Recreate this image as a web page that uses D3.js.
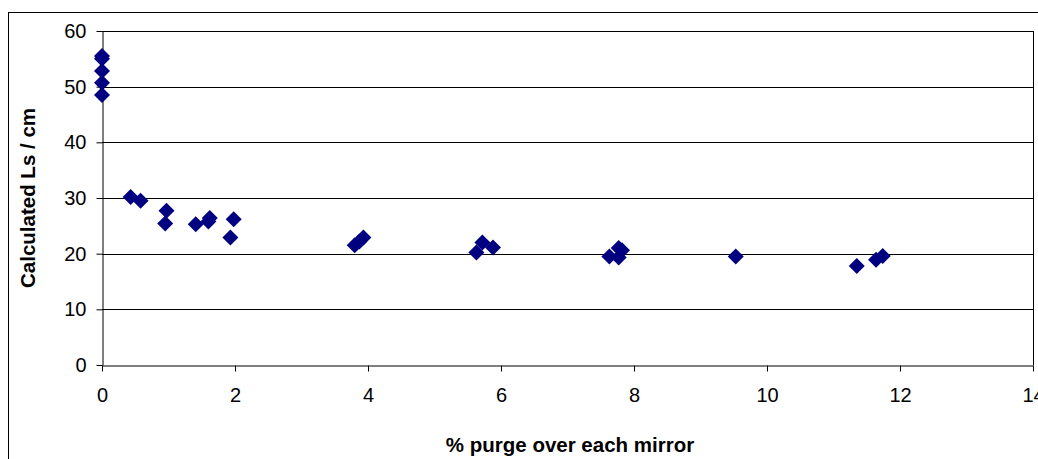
<!DOCTYPE html>
<html><head><meta charset="utf-8">
<script src="https://cdn.jsdelivr.net/npm/d3@7"></script>
<style>body{margin:0;background:#fff}svg{display:block}</style>
</head><body>
<svg id="c" width="1038" height="459"></svg>
<script>
const purge = [0,0,0,0,0, 0.43,0.58,0.97,0.95,1.41,1.6,1.62,1.98,1.93, 3.8,3.87,3.93, 5.63,5.72,5.88, 7.63,7.77,7.77,7.82, 9.53, 11.35,11.64,11.74];
const ls    = [55.5,55.0,52.8,50.7,48.5, 30.2,29.5,27.7,25.4,25.3,25.8,26.4,26.2,22.9, 21.5,22.2,22.9, 20.2,22.0,21.1, 19.5,21.0,19.3,20.6, 19.5, 17.8,18.9,19.6];
const xTicks = [0,2,4,6,8,10,12,14];
const yTicks = [0,10,20,30,40,50,60];
const xTitle = "% purge over each mirror";
const yTitle = "Calculated Ls / cm";

const svg = d3.select("#c");
const L=102, R=1033, T=31, B=365;
const x = d3.scaleLinear().domain([0,14]).range([L,R]);
const y = d3.scaleLinear().domain([0,60]).range([B,T]);

svg.append("rect").attr("x",8.5).attr("y",12.5).attr("width",1100).attr("height",500)
  .attr("fill","none").attr("stroke","#000").attr("stroke-width",1);

svg.append("g").selectAll("line").data(yTicks.filter(d=>d>0)).join("line")
  .attr("x1",L).attr("x2",R).attr("y1",d=>Math.round(y(d))+0.5).attr("y2",d=>Math.round(y(d))+0.5)
  .attr("stroke","#000").attr("stroke-width",1);
svg.append("line").attr("x1",R+0.5).attr("x2",R+0.5).attr("y1",T).attr("y2",B)
  .attr("stroke","#000");

const font = "'Liberation Sans', Arial, sans-serif";
const xAxis = svg.append("g").attr("transform",`translate(0,${Math.round(B)+0.5})`)
  .call(d3.axisBottom(x).tickValues(xTicks).tickSize(6).tickPadding(16).tickSizeOuter(0));
const yAxis = svg.append("g").attr("transform",`translate(${L+0.5},0)`)
  .call(d3.axisLeft(y).tickValues(yTicks).tickSize(6).tickPadding(10).tickSizeOuter(0));
[xAxis,yAxis].forEach(g=>{
  g.selectAll("path,line").attr("stroke","#000");
  g.selectAll("text").attr("font-family",font).attr("font-size",20).attr("fill","#000");
});

const r = 8;
svg.append("g").selectAll("path").data(purge.map((p,i)=>[p,ls[i]])).join("path")
  .attr("d",`M0,${-r}L${r},0L0,${r}L${-r},0Z`)
  .attr("transform",d=>`translate(${x(d[0])},${y(d[1])})`)
  .attr("fill","#000080");

svg.append("text").attr("x",570).attr("y",452).attr("text-anchor","middle")
  .attr("font-family",font).attr("font-weight","bold").attr("font-size",20.5).text(xTitle);
svg.append("text").attr("transform",`translate(35,${(T+B)/2}) rotate(-90)`).attr("text-anchor","middle")
  .attr("font-family",font).attr("font-weight","bold").attr("font-size",20.5).text(yTitle);
</script>
</body></html>
